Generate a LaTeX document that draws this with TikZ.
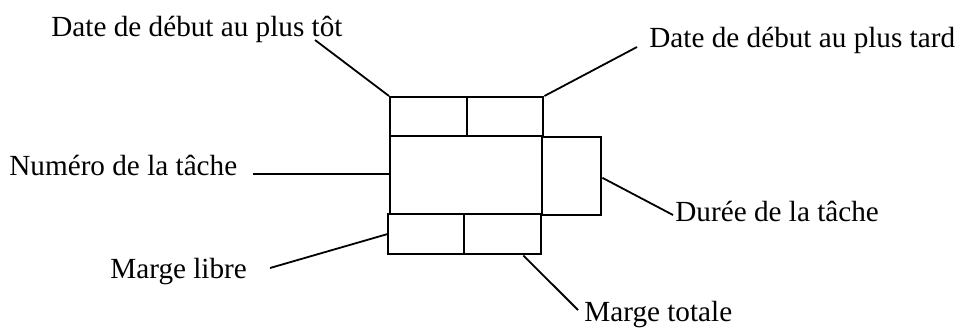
\documentclass[tikz,border=0pt]{standalone}
\usepackage{fontspec}
\setmainfont{Liberation Serif}
\usetikzlibrary{calc}
\begin{document}
\begin{tikzpicture}[x=0.5pt,y=-0.5pt,
  cell/.style={draw, line width=1.2pt, rectangle, inner sep=0pt, anchor=north west},
  lbl/.style={inner sep=0pt, anchor=base west, font=\fontsize{14.6pt}{17pt}\selectfont},
  leader/.style={line width=0.9pt}]
\useasboundingbox (0,0) rectangle (961,327);
% boxes (sizes in pt = px/2)
\node[cell, minimum width=38.5pt, minimum height=19.5pt] (es) at (389,96) {};
\node[cell, minimum width=38pt, minimum height=19.5pt] (ls) at (466,96) {};
\node[cell, minimum width=76pt, minimum height=39pt] (num) at (389,135) {};
\node[cell, minimum width=29.5pt, minimum height=39pt] (dur) at (541,136) {};
\node[cell, minimum width=38pt, minimum height=20pt] (ml) at (387,213) {};
\node[cell, minimum width=38.5pt, minimum height=20pt] (mt) at (463,213) {};
% labels
\node[lbl] (t1) at (51,36) {Date de début au plus tôt};
\node[lbl] (t2) at (649,47) {Date de début au plus tard};
\node[lbl] (t3) at (9,175) {Numéro de la tâche};
\node[lbl] (t4) at (675,221) {Durée de la tâche};
\node[lbl] (t5) at (110,278) {Marge libre};
\node[lbl] (t6) at (584,321) {Marge totale};
% free ends of leaders
\coordinate (c1) at (315,40);
\coordinate (c2) at (637,47);
\coordinate (c3) at (253,174);
\coordinate (c4) at (673,215);
\coordinate (c5) at (270,268);
\coordinate (c6) at (578,310);
% leaders
\draw[leader] (c1) -- (es.north west);
\draw[leader] (c2) -- (ls.north east);
\draw[leader] (c3) -- (num.west |- c3);
\draw[leader] (c4) -- ($(dur.north east)!0.52!(dur.south east)$);
\draw[leader] (c5) -- ($(ml.north west)!0.5!(ml.south west)$);
\draw[leader] (c6) -- ($(mt.south west)!0.76!(mt.south east)$);
\end{tikzpicture}
\end{document}
